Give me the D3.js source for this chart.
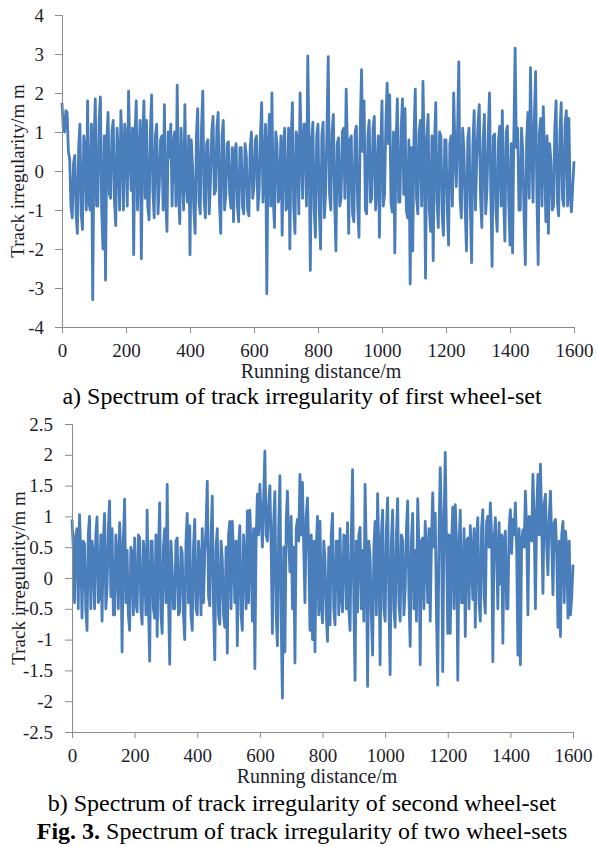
<!DOCTYPE html>
<html>
<head>
<meta charset="utf-8">
<script src="https://cdn.jsdelivr.net/npm/d3@7"></script>
<style>
  body { margin: 0; background: #fff; }
  svg text { font-family: "Liberation Serif", "Times New Roman", serif; }
</style>
</head>
<body>
<div id="svg"></div>
<script>
// sampled every 4 m along the track, 0 .. 1600 m
const distanceStep = 4;

const irregularityFirst = [
  1.75, 1.1, 1.0, 1.55, 1.5, 0.5, 0.3, -0.9, -1.2, 0.2, 0.4, -1.1, -1.6, 0.6, 1.2, -1.1, -1.5, 0.9, 0.6, -1.0,
  1.8, -0.8, -1.0, 1.2, -3.3, 0.7, 1.85, -0.9, -0.9, 1.3, 1.9, -1.0, -2.0, 0.9, -2.8, 0.8, 1.5, -0.6, -0.7, 1.0,
  1.3, -0.8, -1.4, 1.1, 0.5, -1.0, 1.55, 0.6, -1.0, 1.2, 0.8, -0.9, 2.05, 0.5, -0.5, 1.1, -2.15, 0.9, 1.8, -1.0,
  0.3, 1.3, -2.25, 0.8, 1.8, -0.7, 1.3, -0.9, -1.25, 1.0, 1.95, -0.5, -1.2, 0.9, 1.2, -1.1, -0.4, 0.8, 0.9, -1.0,
  1.7, -0.7, -1.55, 1.0, 0.35, 1.2, -0.9, 0.7, 1.0, -0.9, 2.2, -0.5, -1.35, 1.1, 0.1, -1.0, 1.7, -0.3, -0.8, 0.9,
  -2.15, 0.8, 0.1, -1.0, -1.6, 0.9, 1.6, -0.8, -1.1, 1.1, 2.05, -0.7, -1.2, 0.7, 0.8, -1.1, -0.3, 1.0, 1.4, -0.6,
  -0.5, 1.1, 1.5, -0.8, -1.6, 0.9, 1.3, -1.0, -0.6, 0.7, 0.75, -0.6, -0.95, 0.6, -1.3, 0.5, 0.7, -0.9, -1.3, 0.6,
  0.6, -0.9, -1.1, 0.7, 0.4, -1.0, -1.15, 0.6, 1.0, -0.7, -0.4, 0.8, 0.9, -1.0, -0.5, 0.9, 1.75, -0.8, 0.2, 1.2,
  -3.15, 0.6, 1.45, -0.9, 2.0, -0.7, -1.45, 1.0, 0.7, -0.8, -0.6, 0.9, -1.65, 0.7, 1.1, -1.0, -0.9, 1.1, -2.0, 0.8,
  1.75, -0.9, -1.6, 1.0, 0.8, -1.1, 2.0, 0.5, -0.7, 1.2, 1.2, -0.9, 2.95, 0.7, -2.55, 0.8, 1.25, -1.0, -1.7, 0.9,
  1.2, -1.0, -2.0, 0.9, 1.25, -1.2, -0.5, 1.1, 2.93, -0.6, -1.0, 1.0, 1.45, -0.8, -2.05, 0.7, 0.85, -0.9, -0.7, 1.0,
  1.1, -0.7, 2.1, 0.6, -1.6, 0.8, 0.9, -1.1, -1.3, 1.0, 1.15, -0.9, -1.7, 1.1, 2.6, 0.5, 1.8, -1.0, -1.1, 0.9,
  1.3, -0.8, -0.7, 1.1, 1.4, -1.0, -0.3, 0.9, -1.7, 0.6, 1.8, -0.9, -0.6, 1.2, 2.25, 0.7, 1.95, -0.8, -1.05, 1.0,
  -2.1, 0.7, 1.85, -0.8, -0.8, 1.1, 1.85, -0.6, 1.6, -1.0, -1.2, 0.8, -2.9, 0.6, -2.05, 0.9, 2.1, -0.7, -1.1, 1.0,
  1.3, -0.9, 2.3, 0.5, -2.75, 0.8, 1.45, -1.0, -1.55, 0.9, -2.3, 0.7, 1.75, -0.8, -1.45, 1.0, 0.9, -1.1, -1.65, 0.8,
  0.8, -1.0, -1.9, 0.7, 0.9, -0.9, 2.0, 0.6, -0.4, 1.0, 2.8, -0.7, -1.2, 1.1, 0.55, -1.0, -2.05, 0.8, 1.1, -0.9,
  -2.35, 0.7, 1.55, -1.0, 0.25, 1.2, 1.7, -0.7, -1.45, 0.8, 1.45, -1.1, -0.5, 1.0, 2.0, -0.6, -2.45, 0.9, 0.95, -1.0,
  -1.55, 0.8, 1.15, -0.9, 1.55, -0.7, -1.8, 1.0, 1.15, -0.8, -1.9, 0.7, -2.1, 0.9, 3.15, 0.6, 1.1, -1.0, -1.0, 1.1,
  0.5, -1.2, -2.4, 0.8, 1.5, -0.7, 2.65, 0.6, -0.8, 1.3, 2.55, -0.6, -2.4, 1.0, 1.35, -0.9, 1.65, 0.5, -1.3, 0.9,
  -1.6, 0.7, 0.25, -1.0, -0.9, 1.1, 1.8, -0.8, -1.15, 1.0, 1.75, -0.7, -0.9, 1.2, 1.55, -0.9, 1.35, -0.6, -1.05, -0.4,
  0.25
];

const irregularitySecond = [
  0.95, 0.5, -0.4, 0.7, 0.8, -0.5, 1.03, 0.4, -0.65, 0.6, 0.55, -0.5, -0.85, 0.7, 1.0, -0.5, 0.6, 0.4, -0.5, 0.7,
  0.99, -0.4, -0.3, 0.7, -0.7, 0.6, 1.05, -0.5, -0.15, 0.8, 1.25, -0.3, 0.8, -0.6, -0.6, 0.7, 0.35, -0.5, 0.9, 0.4,
  -1.2, 0.6, 1.28, -0.4, 0.45, -0.6, -0.85, 0.5, 0.4, -0.6, 0.65, -0.4, -0.55, 0.7, 0.65, -0.5, -0.75, 0.6, 0.3, -0.6,
  1.1, -0.4, -1.35, 0.6, 0.6, -0.5, -0.65, 0.7, -0.95, 0.4, 1.22, -0.6, -0.9, 0.5, 0.8, -0.4, 1.52, -0.3, -1.4, 0.6,
  0.15, -0.5, -0.5, 0.6, 0.65, -0.6, -0.55, 0.5, 0.4, -0.6, -1.0, 0.6, 1.05, -0.4, 0.85, -0.6, -0.85, 0.5, 0.95, -0.5,
  -0.6, 0.6, 0.25, -0.6, 0.8, -0.4, 0.4, 0.8, 1.57, -0.3, -0.45, 0.7, 1.33, -0.5, -1.33, 0.5, 0.8, -0.6, -0.75, 0.6,
  0.3, -0.6, -0.8, 0.5, -1.22, 0.7, 0.92, -0.5, 0.92, 0.4, -0.4, 0.6, -1.1, 0.5, 0.85, -0.6, -0.85, 0.7, 0.3, -0.5,
  1.09, -0.4, 1.1, 0.5, -0.7, 0.8, -1.47, 0.6, 1.36, 0.7, 1.52, 1.0, 0.5, 1.3, 2.06, 0.7, 0.6, 1.2, 1.5, 0.5,
  -0.9, 0.9, 1.4, -0.6, -1.1, 0.8, 1.66, -0.7, -1.95, 0.5, -1.2, 0.9, 1.41, 0.6, 0.1, 1.0, -0.5, 0.5, -1.38, 0.8,
  0.95, 0.6, 1.68, 0.7, 1.55, 0.5, -0.4, 1.0, 1.3, 0.4, -0.85, 0.7, -1.0, 0.6, -1.2, 0.5, 1.0, -0.6, 0.92, -0.4,
  -0.73, 0.6, 0.3, -0.6, -1.03, 0.5, -0.76, 0.7, 1.05, -0.5, -0.76, 0.6, 0.6, -0.6, 0.8, -0.3, -0.55, 0.7, 0.68, -0.5,
  0.9, -0.5, -0.85, 0.7, 1.76, -0.4, -1.66, 0.6, -0.55, 0.7, 0.82, -0.5, 0.45, -0.7, 1.52, 0.4, -1.76, 0.6, 0.35, -0.6,
  -1.25, 0.5, 0.92, -0.6, 1.37, 0.4, -1.41, 0.7, 1.1, -0.5, -0.7, 0.8, 1.3, -0.4, -1.57, 0.6, 1.1, -0.5, -0.8, 0.7,
  1.29, -0.4, -0.7, 0.7, 0.6, -0.6, -0.2, 0.8, 1.25, -0.3, -1.11, 0.6, 1.05, -0.5, 0.45, -0.7, 1.29, 0.5, -1.41, 0.6,
  0.65, -0.5, 0.92, 0.4, -0.4, 0.8, -0.7, 0.6, 1.38, 0.5, 1.05, -0.6, -1.74, 0.7, 1.79, 0.9, -1.52, 0.8, 2.04, 0.6,
  -0.9, 0.7, -0.9, 0.5, 1.15, -0.5, 1.19, 0.6, -1.66, 0.5, 1.1, -0.4, -0.4, 0.8, -0.95, 0.6, 0.65, -0.5, 0.85, 0.4,
  -0.35, 0.8, -0.8, 0.6, 0.98, -0.4, -0.7, 0.8, 1.11, -0.3, -0.57, 0.9, 1.0, 0.5, 1.22, 0.7, -1.36, 0.6, 0.98, 0.4,
  -0.5, 0.9, -0.1, 0.7, -1.06, 0.6, 0.76, -0.5, -0.5, 0.8, 1.11, 0.4, 0.95, 0.7, 1.22, 0.5, -1.25, 0.8, -1.41, 0.6,
  0.78, 0.5, 1.41, 0.8, -0.6, 1.0, 0.98, 0.6, 1.68, 0.9, -0.5, 1.1, 1.68, 0.7, 1.85, 0.9, -0.25, 1.2, 1.36, 0.5,
  0.05, 1.0, 1.41, 0.6, -0.27, 0.9, 0.95, 0.4, -0.8, 0.6, -0.95, 0.7, 0.92, -0.4, 0.76, 0.5, -0.65, 0.6, -0.6, -0.3,
  0.22
];

const distanceTicks = [0, 200, 400, 600, 800, 1000, 1200, 1400, 1600];
const firstTicks = [-4, -3, -2, -1, 0, 1, 2, 3, 4];
const secondTicks = [-2.5, -2, -1.5, -1, -0.5, 0, 0.5, 1, 1.5, 2, 2.5];

const yTitle = "Track irregularity/m m";
const xTitle = "Running distance/m";
const captionA = "a) Spectrum of track irregularity of first wheel-set";
const captionB = "b) Spectrum of track irregularity of second wheel-set";

var width = 598,
    height = 846;

var svg = d3.select("#svg")
    .append("svg")
    .attr("width", width)
    .attr("height", height);

function drawPanel(values, yTicks, box) {
    var g = svg.append("g");
    var xScale = d3.scaleLinear()
        .domain([0, 1600])
        .range([box.left, box.right]);
    var yScale = d3.scaleLinear()
        .domain([yTicks[0], yTicks[yTicks.length - 1]])
        .range([box.bottom, box.top]);

    var line = d3.line()
        .x((d, i) => xScale(i * distanceStep))
        .y(d => yScale(d));

    g.append("path")
        .datum(values)
        .attr("fill", "none")
        .attr("stroke", "#4a7ebb")
        .attr("stroke-width", 2.8)
        .attr("stroke-linejoin", "round")
        .attr("d", line);

    var xAxis = d3.axisBottom(xScale)
        .tickValues(distanceTicks)
        .tickSizeOuter(0)
        .tickSize(6)
        .tickPadding(box.xPad)
        .tickFormat(d => String(d));
    var yAxis = d3.axisLeft(yScale)
        .tickValues(yTicks)
        .tickSizeOuter(0)
        .tickSize(7)
        .tickPadding(box.yPad)
        .tickFormat(d => String(d));

    var gX = g.append("g")
        .attr("transform", "translate(0," + box.bottom + ")")
        .call(xAxis);
    var gY = g.append("g")
        .attr("transform", "translate(" + box.left + ",0)")
        .call(yAxis);

    [gX, gY].forEach(ax => {
        ax.select(".domain").attr("stroke", "#8c8c8c");
        ax.selectAll(".tick line").attr("stroke", "#8c8c8c");
        ax.selectAll(".tick text")
            .attr("fill", "#1e1e2a")
            .style("font-size", "19px")
            .style("font-family", "'Liberation Serif', serif");
    });

    g.append("text")
        .attr("x", box.xTitleX)
        .attr("y", box.bottom + 51)
        .attr("text-anchor", "middle")
        .attr("fill", "#1e1e2a")
        .style("font-size", "20px")
        .text(xTitle);

    g.append("text")
        .attr("transform", "translate(" + box.yTitleX + "," + yScale(0) + ") rotate(-90)")
        .attr("text-anchor", "middle")
        .attr("fill", "#1e1e2a")
        .style("font-size", "19px")
        .text(yTitle);
}

drawPanel(irregularityFirst, firstTicks,
    { left: 62, right: 574, top: 15, bottom: 327, xPad: 10.5, yPad: 11, yTitleX: 24, xTitleX: 321 });
drawPanel(irregularitySecond, secondTicks,
    { left: 72, right: 573, top: 424, bottom: 732, xPad: 11, yPad: 12, yTitleX: 25, xTitleX: 317 });

svg.append("text")
    .attr("x", 302).attr("y", 404)
    .attr("text-anchor", "middle")
    .style("font-size", "24px")
    .text(captionA);

svg.append("text")
    .attr("x", 302).attr("y", 811)
    .attr("text-anchor", "middle")
    .style("font-size", "24px")
    .text(captionB);

var fig = svg.append("text")
    .attr("x", 302).attr("y", 839)
    .attr("text-anchor", "middle")
    .style("font-size", "24px");
fig.append("tspan").style("font-weight", "bold").text("Fig. 3.");
fig.append("tspan").text(" Spectrum of track irregularity of two wheel-sets");
</script>
</body>
</html>
